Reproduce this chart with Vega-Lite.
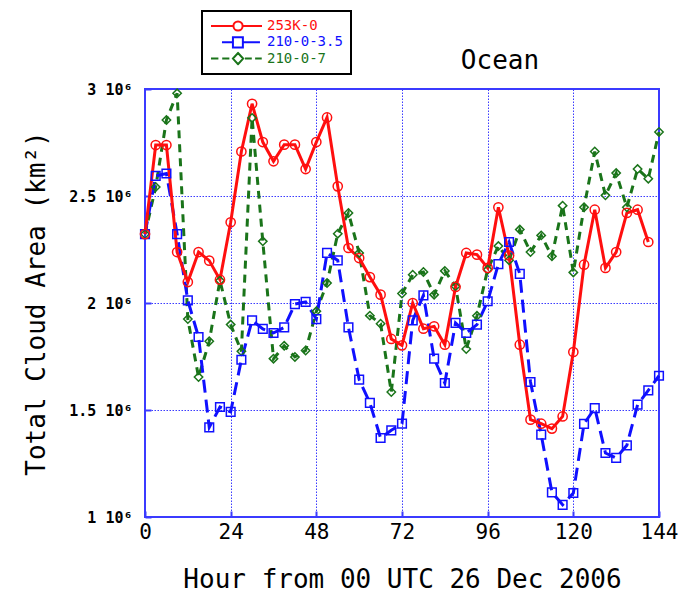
{
  "$schema": "https://vega.github.io/schema/vega-lite/v6.json",
  "autosize": {"type": "none"},
  "width": 514,
  "height": 428,
  "padding": {"left": 145, "top": 89, "right": 24, "bottom": 77},
  "background": "white",
  "config": {
    "font": "DejaVu Sans Mono",
    "view": {"stroke": "#3b3bff", "strokeWidth": 2},
    "axis": {
      "grid": true,
      "gridColor": "#3b3bff",
      "gridDash": [1.5, 1.5],
      "gridWidth": 1,
      "gridOpacity": 1,
      "domain": false,
      "ticks": true,
      "tickSize": -6,
      "tickColor": "#3b3bff",
      "tickWidth": 2,
      "labelColor": "black",
      "titleColor": "black",
      "titleFontWeight": "normal",
      "labelFont": "DejaVu Sans Mono",
      "titleFont": "DejaVu Sans Mono"
    }
  },
  "title": {
    "text": "Ocean",
    "font": "DejaVu Sans Mono",
    "fontSize": 26,
    "fontWeight": "normal",
    "color": "black",
    "anchor": "middle",
    "dx": 98,
    "dy": 85,
    "offset": 0,
    "baseline": "alphabetic"
  },
  "data": {
    "values": [
      {"h": 0, "v": 2322000, "s": "210-0-7"},
      {"h": 3, "v": 2542000, "s": "210-0-7"},
      {"h": 6, "v": 2855000, "s": "210-0-7"},
      {"h": 9, "v": 2980000, "s": "210-0-7"},
      {"h": 12, "v": 1925000, "s": "210-0-7"},
      {"h": 15, "v": 1654000, "s": "210-0-7"},
      {"h": 18, "v": 1821000, "s": "210-0-7"},
      {"h": 21, "v": 2105000, "s": "210-0-7"},
      {"h": 24, "v": 1899000, "s": "210-0-7"},
      {"h": 27, "v": 1774000, "s": "210-0-7"},
      {"h": 30, "v": 2865000, "s": "210-0-7"},
      {"h": 33, "v": 2288000, "s": "210-0-7"},
      {"h": 36, "v": 1740000, "s": "210-0-7"},
      {"h": 39, "v": 1800000, "s": "210-0-7"},
      {"h": 42, "v": 1748000, "s": "210-0-7"},
      {"h": 45, "v": 1778000, "s": "210-0-7"},
      {"h": 48, "v": 1961000, "s": "210-0-7"},
      {"h": 51, "v": 2093000, "s": "210-0-7"},
      {"h": 54, "v": 2324000, "s": "210-0-7"},
      {"h": 57, "v": 2421000, "s": "210-0-7"},
      {"h": 60, "v": 2234000, "s": "210-0-7"},
      {"h": 63, "v": 1941000, "s": "210-0-7"},
      {"h": 66, "v": 1903000, "s": "210-0-7"},
      {"h": 69, "v": 1584000, "s": "210-0-7"},
      {"h": 72, "v": 2044000, "s": "210-0-7"},
      {"h": 75, "v": 2132000, "s": "210-0-7"},
      {"h": 78, "v": 2145000, "s": "210-0-7"},
      {"h": 81, "v": 2039000, "s": "210-0-7"},
      {"h": 84, "v": 2150000, "s": "210-0-7"},
      {"h": 87, "v": 2078000, "s": "210-0-7"},
      {"h": 90, "v": 1785000, "s": "210-0-7"},
      {"h": 93, "v": 1940000, "s": "210-0-7"},
      {"h": 96, "v": 2156000, "s": "210-0-7"},
      {"h": 99, "v": 2266000, "s": "210-0-7"},
      {"h": 102, "v": 2200000, "s": "210-0-7"},
      {"h": 105, "v": 2343000, "s": "210-0-7"},
      {"h": 108, "v": 2238000, "s": "210-0-7"},
      {"h": 111, "v": 2316000, "s": "210-0-7"},
      {"h": 114, "v": 2218000, "s": "210-0-7"},
      {"h": 117, "v": 2455000, "s": "210-0-7"},
      {"h": 120, "v": 2143000, "s": "210-0-7"},
      {"h": 123, "v": 2447000, "s": "210-0-7"},
      {"h": 126, "v": 2708000, "s": "210-0-7"},
      {"h": 129, "v": 2503000, "s": "210-0-7"},
      {"h": 132, "v": 2607000, "s": "210-0-7"},
      {"h": 135, "v": 2447000, "s": "210-0-7"},
      {"h": 138, "v": 2626000, "s": "210-0-7"},
      {"h": 141, "v": 2581000, "s": "210-0-7"},
      {"h": 144, "v": 2799000, "s": "210-0-7"},

      {"h": 0, "v": 2322000, "s": "210-0-3.5"},
      {"h": 3, "v": 2594000, "s": "210-0-3.5"},
      {"h": 6, "v": 2605000, "s": "210-0-3.5"},
      {"h": 9, "v": 2322000, "s": "210-0-3.5"},
      {"h": 12, "v": 2012000, "s": "210-0-3.5"},
      {"h": 15, "v": 1841000, "s": "210-0-3.5"},
      {"h": 18, "v": 1419000, "s": "210-0-3.5"},
      {"h": 21, "v": 1514000, "s": "210-0-3.5"},
      {"h": 24, "v": 1491000, "s": "210-0-3.5"},
      {"h": 27, "v": 1735000, "s": "210-0-3.5"},
      {"h": 30, "v": 1919000, "s": "210-0-3.5"},
      {"h": 33, "v": 1879000, "s": "210-0-3.5"},
      {"h": 36, "v": 1860000, "s": "210-0-3.5"},
      {"h": 39, "v": 1886000, "s": "210-0-3.5"},
      {"h": 42, "v": 1995000, "s": "210-0-3.5"},
      {"h": 45, "v": 2005000, "s": "210-0-3.5"},
      {"h": 48, "v": 1925000, "s": "210-0-3.5"},
      {"h": 51, "v": 2234000, "s": "210-0-3.5"},
      {"h": 54, "v": 2199000, "s": "210-0-3.5"},
      {"h": 57, "v": 1886000, "s": "210-0-3.5"},
      {"h": 60, "v": 1642000, "s": "210-0-3.5"},
      {"h": 63, "v": 1533000, "s": "210-0-3.5"},
      {"h": 66, "v": 1369000, "s": "210-0-3.5"},
      {"h": 69, "v": 1405000, "s": "210-0-3.5"},
      {"h": 72, "v": 1436000, "s": "210-0-3.5"},
      {"h": 75, "v": 1919000, "s": "210-0-3.5"},
      {"h": 78, "v": 2036000, "s": "210-0-3.5"},
      {"h": 81, "v": 1740000, "s": "210-0-3.5"},
      {"h": 84, "v": 1626000, "s": "210-0-3.5"},
      {"h": 87, "v": 1907000, "s": "210-0-3.5"},
      {"h": 90, "v": 1860000, "s": "210-0-3.5"},
      {"h": 93, "v": 1899000, "s": "210-0-3.5"},
      {"h": 96, "v": 2008000, "s": "210-0-3.5"},
      {"h": 99, "v": 2182000, "s": "210-0-3.5"},
      {"h": 102, "v": 2285000, "s": "210-0-3.5"},
      {"h": 105, "v": 2136000, "s": "210-0-3.5"},
      {"h": 108, "v": 1631000, "s": "210-0-3.5"},
      {"h": 111, "v": 1385000, "s": "210-0-3.5"},
      {"h": 114, "v": 1115000, "s": "210-0-3.5"},
      {"h": 117, "v": 1057000, "s": "210-0-3.5"},
      {"h": 120, "v": 1112000, "s": "210-0-3.5"},
      {"h": 123, "v": 1435000, "s": "210-0-3.5"},
      {"h": 126, "v": 1509000, "s": "210-0-3.5"},
      {"h": 129, "v": 1299000, "s": "210-0-3.5"},
      {"h": 132, "v": 1276000, "s": "210-0-3.5"},
      {"h": 135, "v": 1335000, "s": "210-0-3.5"},
      {"h": 138, "v": 1525000, "s": "210-0-3.5"},
      {"h": 141, "v": 1592000, "s": "210-0-3.5"},
      {"h": 144, "v": 1660000, "s": "210-0-3.5"},

      {"h": 0, "v": 2322000, "s": "253K-0"},
      {"h": 3, "v": 2738000, "s": "253K-0"},
      {"h": 6, "v": 2738000, "s": "253K-0"},
      {"h": 9, "v": 2238000, "s": "253K-0"},
      {"h": 12, "v": 2098000, "s": "253K-0"},
      {"h": 15, "v": 2238000, "s": "253K-0"},
      {"h": 18, "v": 2198000, "s": "253K-0"},
      {"h": 21, "v": 2109000, "s": "253K-0"},
      {"h": 24, "v": 2377000, "s": "253K-0"},
      {"h": 27, "v": 2708000, "s": "253K-0"},
      {"h": 30, "v": 2931000, "s": "253K-0"},
      {"h": 33, "v": 2752000, "s": "253K-0"},
      {"h": 36, "v": 2662000, "s": "253K-0"},
      {"h": 39, "v": 2740000, "s": "253K-0"},
      {"h": 42, "v": 2740000, "s": "253K-0"},
      {"h": 45, "v": 2626000, "s": "253K-0"},
      {"h": 48, "v": 2752000, "s": "253K-0"},
      {"h": 51, "v": 2867000, "s": "253K-0"},
      {"h": 54, "v": 2545000, "s": "253K-0"},
      {"h": 57, "v": 2257000, "s": "253K-0"},
      {"h": 60, "v": 2210000, "s": "253K-0"},
      {"h": 63, "v": 2121000, "s": "253K-0"},
      {"h": 66, "v": 2039000, "s": "253K-0"},
      {"h": 69, "v": 1832000, "s": "253K-0"},
      {"h": 72, "v": 1802000, "s": "253K-0"},
      {"h": 75, "v": 2000000, "s": "253K-0"},
      {"h": 78, "v": 1880000, "s": "253K-0"},
      {"h": 81, "v": 1891000, "s": "253K-0"},
      {"h": 84, "v": 1805000, "s": "253K-0"},
      {"h": 87, "v": 2075000, "s": "253K-0"},
      {"h": 90, "v": 2234000, "s": "253K-0"},
      {"h": 93, "v": 2226000, "s": "253K-0"},
      {"h": 96, "v": 2164000, "s": "253K-0"},
      {"h": 99, "v": 2447000, "s": "253K-0"},
      {"h": 102, "v": 2222000, "s": "253K-0"},
      {"h": 105, "v": 1805000, "s": "253K-0"},
      {"h": 108, "v": 1455000, "s": "253K-0"},
      {"h": 111, "v": 1436000, "s": "253K-0"},
      {"h": 114, "v": 1413000, "s": "253K-0"},
      {"h": 117, "v": 1470000, "s": "253K-0"},
      {"h": 120, "v": 1771000, "s": "253K-0"},
      {"h": 123, "v": 2179000, "s": "253K-0"},
      {"h": 126, "v": 2436000, "s": "253K-0"},
      {"h": 129, "v": 2164000, "s": "253K-0"},
      {"h": 132, "v": 2238000, "s": "253K-0"},
      {"h": 135, "v": 2421000, "s": "253K-0"},
      {"h": 138, "v": 2436000, "s": "253K-0"},
      {"h": 141, "v": 2285000, "s": "253K-0"}
    ]
  },
  "encoding": {
    "x": {
      "field": "h",
      "type": "quantitative",
      "scale": {"domain": [0, 144], "nice": false, "zero": false},
      "axis": {
        "values": [0, 24, 48, 72, 96, 120, 144],
        "title": "Hour from 00 UTC 26 Dec 2006",
        "labelFontSize": 21,
        "labelPadding": 10,
        "labelFlush": false,
        "titleFontSize": 26,
        "titlePadding": 24
      }
    },
    "y": {
      "field": "v",
      "type": "quantitative",
      "scale": {"domain": [1000000, 3000000], "nice": false, "zero": false},
      "axis": {
        "values": [1000000, 1500000, 2000000, 2500000, 3000000],
        "labelExpr": "(datum.value / 1000000) + ' 10⁶'",
        "labelFontSize": 15,
        "labelFontWeight": "bold",
        "labelPadding": 19,
        "labelFlush": false,
        "title": "Total Cloud Area (km²)",
        "titleFontSize": 26,
        "titlePadding": 19
      }
    },
    "color": {
      "field": "s",
      "type": "nominal",
      "scale": {
        "domain": ["253K-0", "210-0-3.5", "210-0-7"],
        "range": ["#ff0f0f", "#1010ff", "#1a741a"]
      },
      "legend": {
        "title": null,
        "orient": "none",
        "legendX": 57,
        "legendY": -78,
        "direction": "vertical",
        "padding": 8,
        "rowPadding": 2.3,
        "strokeColor": "black",
        "fillColor": "white",
        "symbolType": "circle",
        "symbolSize": 2601,
        "clipHeight": 14,
        "symbolStrokeWidth": 2,
        "labelFont": "DejaVu Sans Mono",
        "labelFontSize": 14,
        "labelOffset": 4,
        "encode": {
          "legend": {"update": {"strokeWidth": {"value": 2}}},
          "symbols": {
            "update": {
              "shape": {"signal": "datum.value === '253K-0' ? 'M-1,0H-0.12M0.24,0H1M0.24,0A0.18,0.18,0,1,1,-0.12,0A0.18,0.18,0,1,1,0.24,0' : datum.value === '210-0-3.5' ? 'M-0.57,0H-0.14M0.25,0H0.92M-0.14,-0.2H0.25V0.2H-0.14Z' : 'M-1,0H-0.71M-0.56,0H-0.28M0.33,0H0.6M0.73,0H0.99M0.06,-0.22L0.26,0L0.06,0.22L-0.14,0Z'"},
              "fill": {"value": "transparent"},
              "strokeDash": {"value": []},
              "strokeWidth": {"value": 2},
              "opacity": {"value": 1}
            }
          },
          "labels": {
            "update": {
              "fill": {"scale": "color", "field": "value"}
            }
          }
        }
      }
    }
  },
  "layer": [
    {
      "transform": [{"filter": "datum.s === '210-0-7'"}],
      "mark": {"type": "line", "strokeWidth": 3, "strokeDash": [8, 6]}
    },
    {
      "transform": [{"filter": "datum.s === '210-0-3.5'"}],
      "mark": {"type": "line", "strokeWidth": 3, "strokeDash": [13, 7]}
    },
    {
      "transform": [{"filter": "datum.s === '253K-0'"}],
      "mark": {"type": "line", "strokeWidth": 3}
    },
    {
      "transform": [{"filter": "datum.s === '210-0-7'"}],
      "mark": {"type": "point", "shape": "diamond", "filled": false, "strokeWidth": 1.5, "opacity": 1, "size": 70}
    },
    {
      "transform": [{"filter": "datum.s === '210-0-3.5'"}],
      "mark": {"type": "point", "shape": "square", "filled": false, "strokeWidth": 1.5, "opacity": 1, "size": 75}
    },
    {
      "transform": [{"filter": "datum.s === '253K-0'"}],
      "mark": {"type": "point", "shape": "circle", "filled": false, "strokeWidth": 1.5, "opacity": 1, "size": 85}
    }
  ]
}
